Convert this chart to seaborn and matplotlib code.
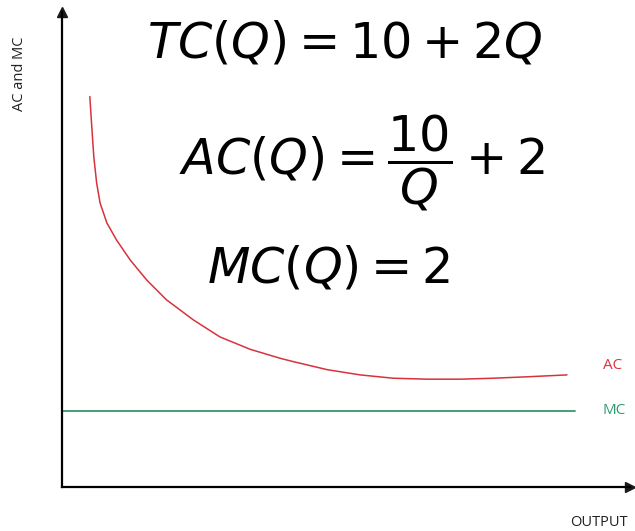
import matplotlib
matplotlib.use("Agg")
import matplotlib.pyplot as plt
import seaborn as sns
import pandas as pd

# Average cost readings (output, cost)
ac_q = [0.49, 0.52, 0.56, 0.61, 0.67, 0.79, 0.96, 1.20, 1.49, 1.84, 2.31, 2.78,
        3.31, 3.84, 4.07, 4.67, 5.25, 5.83, 6.43, 7.01, 7.59, 8.19, 8.89]
ac_cost = [8.22, 7.66, 6.95, 6.40, 5.98, 5.56, 5.20, 4.78, 4.36, 3.94, 3.52, 3.16,
           2.90, 2.71, 2.64, 2.47, 2.36, 2.29, 2.27, 2.27, 2.29, 2.32, 2.36]

# Marginal cost is flat
mc_q = [0.0, 9.03]
mc_cost = [1.61, 1.61]

equations = [r"$TC(Q) = 10 + 2Q$", r"$AC(Q) = \dfrac{10}{Q} + 2$", r"$MC(Q) = 2$"]
curve_labels = ["AC", "MC"]

RED = "#d8323c"
GREEN = "#2f9a6c"

sns.set_theme(style="white")
plt.rcParams["font.family"] = ["Open Sans", "DejaVu Sans"]

W, H = 635, 531
fig = plt.figure(figsize=(W / 100, H / 100), dpi=100)
ax = fig.add_axes([62 / W, (531 - 487) / H, (630 - 62) / W, (487 - 12) / H])
ax.set_xlim(0, 10)
ax.set_ylim(0, 10)

df_ac = pd.DataFrame({"Q": ac_q, "cost": ac_cost})
df_mc = pd.DataFrame({"Q": mc_q, "cost": mc_cost})
sns.lineplot(data=df_ac, x="Q", y="cost", ax=ax, color=RED, lw=1.1, sort=False)
sns.lineplot(data=df_mc, x="Q", y="cost", ax=ax, color=GREEN, lw=1.3, sort=False)

for s in ["top", "right"]:
    ax.spines[s].set_visible(False)
for s in ["left", "bottom"]:
    ax.spines[s].set_color("black")
    ax.spines[s].set_linewidth(1.6)
ax.set_xticks([])
ax.set_yticks([])
ax.set_xlabel("")
ax.set_ylabel("")
ax.plot(1, 0, ">k", ms=7, transform=ax.transAxes, clip_on=False)
ax.plot(0, 1, "^k", ms=7, transform=ax.transAxes, clip_on=False)

# Curve labels at the right end
ax.text(9.52, ac_cost[-1] + 0.2, curve_labels[0], color=RED, fontsize=11, va="center", ha="left")
ax.text(9.52, mc_cost[-1], curve_labels[1], color=GREEN, fontsize=11, va="center", ha="left")

# Axis titles
fig.text(599 / W, 1 - 522 / H, "OUTPUT", fontsize=10.5, color="#222222", ha="center", va="center")
fig.text(20 / W, 1 - 74 / H, "AC and MC", fontsize=10.5, color="#222222", rotation=90,
         ha="center", va="center")

# Cost equations
eq_pos = [(345, 45), (362, 163), (328, 270)]
for txt, (px, py) in zip(equations, eq_pos):
    fig.text(px / W, 1 - py / H, txt, fontsize=35.5, ha="center", va="center", color="black")

fig.savefig("out.png", dpi=100)
